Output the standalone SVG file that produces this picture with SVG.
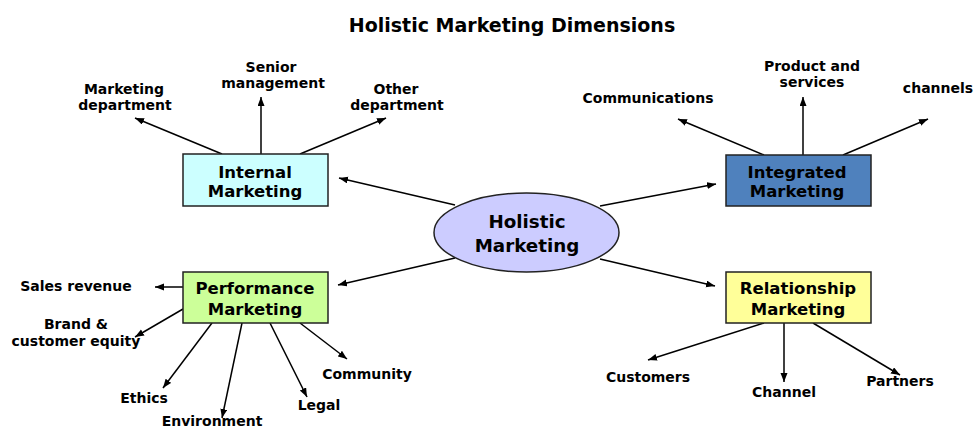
<svg xmlns="http://www.w3.org/2000/svg" width="976" height="430" viewBox="0 0 976 430">
<defs>
<marker id="ah" markerWidth="10" markerHeight="8" refX="9" refY="3.5" orient="auto" markerUnits="userSpaceOnUse">
<path d="M0,0 L9,3.5 L0,7 z" fill="#000"/>
</marker>
<style>
text{font-family:"DejaVu Sans","Liberation Sans",sans-serif;font-weight:bold;fill:#000;text-anchor:middle}
.title{font-size:19px}
.lbl{font-size:14px}
.box{font-size:16.5px}
.hol{font-size:18.3px}
.node{stroke:#222;stroke-width:1.5}
#connectors line{stroke:#000;stroke-width:1.5;marker-end:url(#ah)}
</style>
</defs>
<rect width="976" height="430" fill="#fff"/>
<text class="title" x="512" y="32">Holistic Marketing Dimensions</text>

<g id="connectors">
<line x1="455" y1="205" x2="339" y2="178"/>
<line x1="600" y1="206" x2="716" y2="184"/>
<line x1="455" y1="258" x2="338" y2="285"/>
<line x1="600" y1="259" x2="715" y2="286"/>
<line x1="222" y1="154" x2="135" y2="118"/>
<line x1="261" y1="154" x2="261" y2="97"/>
<line x1="300" y1="154" x2="386" y2="118"/>
<line x1="764" y1="155" x2="678" y2="119"/>
<line x1="803" y1="155" x2="803" y2="97"/>
<line x1="843" y1="155" x2="928" y2="119"/>
<line x1="183" y1="287" x2="155" y2="287"/>
<line x1="183" y1="309" x2="135" y2="337"/>
<line x1="212" y1="323" x2="163" y2="388"/>
<line x1="242" y1="323" x2="222" y2="418"/>
<line x1="270" y1="323" x2="307" y2="397"/>
<line x1="300" y1="323" x2="347" y2="359"/>
<line x1="764" y1="323" x2="648" y2="360"/>
<line x1="784" y1="323" x2="784" y2="382"/>
<line x1="813" y1="323" x2="900" y2="375"/>
</g>

<g id="holistic">
<ellipse class="node" cx="526.5" cy="232.5" rx="92.5" ry="39.5" fill="#ccccff"/>
<text class="hol" x="527" y="228">Holistic</text>
<text class="hol" x="527" y="252">Marketing</text>
</g>

<g id="internal">
<rect class="node" x="183" y="154" width="145" height="52" fill="#ccffff"/>
<text class="box" x="255" y="178">Internal</text>
<text class="box" x="255" y="197">Marketing</text>
</g>

<g id="integrated">
<rect class="node" x="726" y="155" width="145" height="51" fill="#4f81bd"/>
<text class="box" x="797" y="178">Integrated</text>
<text class="box" x="797" y="197">Marketing</text>
</g>

<g id="performance">
<rect class="node" x="183" y="272" width="145" height="51" fill="#ccff99"/>
<text class="box" x="255" y="294">Performance</text>
<text class="box" x="255" y="315">Marketing</text>
</g>

<g id="relationship">
<rect class="node" x="726" y="272" width="145" height="51" fill="#ffff99"/>
<text class="box" x="798" y="294">Relationship</text>
<text class="box" x="798" y="315">Marketing</text>
</g>

<g id="marketing-department"><text class="lbl" x="124" y="94">Marketing</text><text class="lbl" x="125" y="110">department</text></g>
<g id="senior-management"><text class="lbl" x="271" y="72">Senior</text><text class="lbl" x="273" y="88">management</text></g>
<g id="other-department"><text class="lbl" x="396" y="94">Other</text><text class="lbl" x="397" y="110">department</text></g>
<g id="communications"><text class="lbl" x="648" y="103">Communications</text></g>
<g id="product-services"><text class="lbl" x="812" y="71">Product and</text><text class="lbl" x="812" y="87">services</text></g>
<g id="channels"><text class="lbl" x="938" y="93">channels</text></g>
<g id="sales-revenue"><text class="lbl" x="76" y="291">Sales revenue</text></g>
<g id="brand-equity"><text class="lbl" x="76" y="329">Brand &amp;</text><text class="lbl" x="76" y="346">customer equity</text></g>
<g id="ethics"><text class="lbl" x="144" y="403">Ethics</text></g>
<g id="environment"><text class="lbl" x="212" y="426">Environment</text></g>
<g id="legal"><text class="lbl" x="319" y="410">Legal</text></g>
<g id="community"><text class="lbl" x="367" y="379">Community</text></g>
<g id="customers"><text class="lbl" x="648" y="382">Customers</text></g>
<g id="channel"><text class="lbl" x="784" y="397">Channel</text></g>
<g id="partners"><text class="lbl" x="900" y="386">Partners</text></g>
</svg>
